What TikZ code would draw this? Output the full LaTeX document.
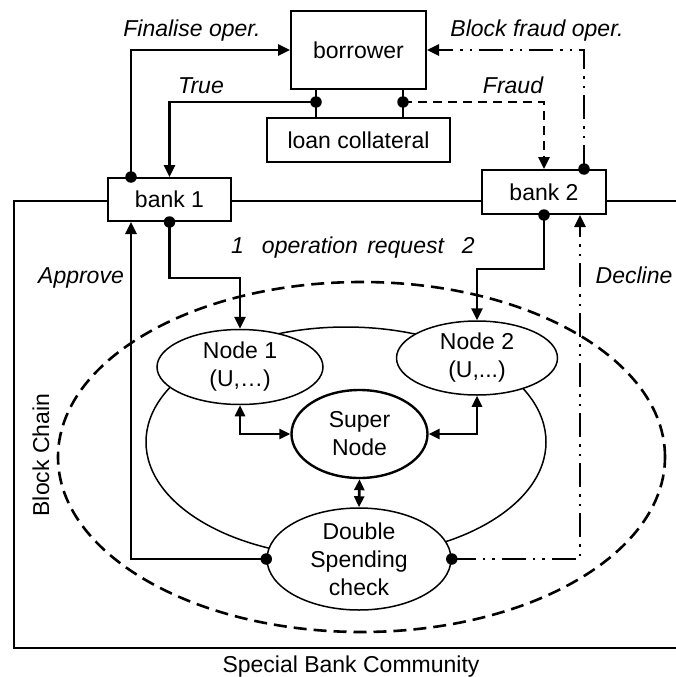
\documentclass[tikz,border=0pt]{standalone}
\usepackage{fontspec}
\setmainfont{Liberation Sans}
\usetikzlibrary{arrows.meta,shapes.geometric}
\begin{document}
\begin{tikzpicture}[x=1pt,y=-1pt,
  every node/.style={font=\fontsize{23}{28}\selectfont},
  box/.style={draw, line width=2pt, inner sep=0pt, fill=white},
  ell/.style={draw, ellipse, line width=1.5pt, fill=white, inner sep=0pt},
  conn/.style={line width=2.6pt, -{Triangle[length=12pt,width=11pt]}},
  dconn/.style={line width=2.6pt, {Triangle[length=11pt,width=10pt]}-{Triangle[length=11pt,width=10pt]}},
  dotc/.style={circle, fill=black, inner sep=0pt, minimum size=11.5pt},
  lab/.style={font=\fontsize{23}{28}\selectfont\itshape, anchor=base, inner sep=0pt},
  plain/.style={anchor=base, inner sep=0pt},
  ddot/.style={dash pattern=on 24pt off 7pt on 2.5pt off 7pt on 2.5pt off 7pt},
  frame/.style={line width=2.6pt},
]
\useasboundingbox (0,0) rectangle (676,677);

% boxes
\node[box, minimum width=135pt, minimum height=78pt] (bor) at (358.5,50) {borrower};
\node[box, minimum width=183pt, minimum height=44pt] (loan) at (358.5,140) {loan collateral};
\node[box, minimum width=123pt, minimum height=43pt] (b1) at (169.5,199.5) {bank 1};
\node[box, minimum width=124pt, minimum height=44pt] (b2) at (544,192) {bank 2};

% helper coordinates
\coordinate (fTL) at (14,201);
\coordinate (fBL) at (14,648);
\coordinate (fBR) at (678,648);
\coordinate (fTR) at (678,201);
\coordinate (tj) at (316,102);
\coordinate (fj) at (403,102);
\coordinate (xfin) at (131,0);
\coordinate (xbf) at (584,0);
\coordinate (xapp) at (131,0);
\coordinate (xdec) at (580,0);

% frame (Special Bank Community)
\draw[frame] (b1.west |- fTL) -- (fTL) -- (fBL) -- (fBR);
\draw[frame] (b1.east |- fTL) -- (b2.west |- fTL);
\draw[frame] (b2.east |- fTL) -- (fTR);

% block chain dashed ellipse and network ellipse
\node[draw, ellipse, line width=2.6pt, dash pattern=on 13pt off 7pt, minimum width=607pt, minimum height=350pt, inner sep=0pt] (chain) at (361.5,457) {};
\node[draw, ellipse, line width=1.5pt, minimum width=400pt, minimum height=230pt, inner sep=0pt] (net) at (346,442) {};

% ellipse nodes
\node[ell, minimum width=166pt, minimum height=75pt, label={[align=center]center:Node 1\\(U,…)}] (n1) at (240,367) {};
\node[ell, minimum width=161pt, minimum height=74pt, label={[align=center]center:Node 2\\(U,...)}] (n2) at (477,358) {};
\node[ell, line width=2.4pt, minimum width=136pt, minimum height=88pt, label={[align=center]center:Super\\Node}] (sn) at (359.5,434) {};
\node[ell, minimum width=184pt, minimum height=102pt, label={[align=center]center:Double\\Spending\\check}] (ds) at (359,559) {};

% borrower - loan collateral links
\draw[line width=2pt] (bor.south -| tj) -- (loan.north -| tj);
\draw[line width=2pt] (bor.south -| fj) -- (loan.north -| fj);

% True / Fraud
\draw[conn] (tj) -| (b1.north);
\draw[conn, dash pattern=on 9pt off 6pt] (fj) -| (b2.north);
\node[dotc] (dt) at (tj) {};
\node[dotc] (df) at (fj) {};

% Finalise / Block fraud
\draw[conn] (b1.north -| xfin) |- (bor.west);
\node[dotc] (dfin) at (b1.north -| xfin) {};
\draw[conn, ddot] (b2.north -| xbf) |- (bor.east);
\node[dotc] (dbf) at (b2.north -| xbf) {};

% operation requests
\draw[conn] (b1.south) -- ++(0,56) -| (n1.north);
\node[dotc] (dr1) at (b1.south) {};
\draw[conn] (b2.south) -- ++(0,54) -| (n2.north);
\node[dotc] (dr2) at (b2.south) {};

% node links
\draw[dconn] (n1.south) |- (sn.west);
\draw[dconn] (n2.south) |- (sn.east);
\draw[dconn] (sn.south) -- (ds.north);

% approve / decline
\draw[conn] (ds.west) -| (b1.south -| xapp);
\node[dotc] (dap) at (ds.west) {};
\draw[conn, ddot] (ds.east) -| (b2.south -| xdec);
\node[dotc] (ddc) at (ds.east) {};

% labels
\node[lab] (lfin) at (192,37) {Finalise oper.};
\node[lab] (lbf) at (537,37) {Block fraud oper.};
\node[lab] (ltrue) at (201,93) {True};
\node[lab] (lfraud) at (513,93) {Fraud};
\node[lab] (lreq) at (353,253) {1\hspace{18pt}operation\hspace{3pt} request\hspace{18pt}2};
\node[lab] (lapp) at (81,283) {Approve};
\node[lab] (ldec) at (634,283) {Decline};
\node[plain, rotate=90] (lbc) at (49,455) {Block Chain};
\node[plain] (lsbc) at (351,672) {Special Bank Community};
\end{tikzpicture}
\end{document}
